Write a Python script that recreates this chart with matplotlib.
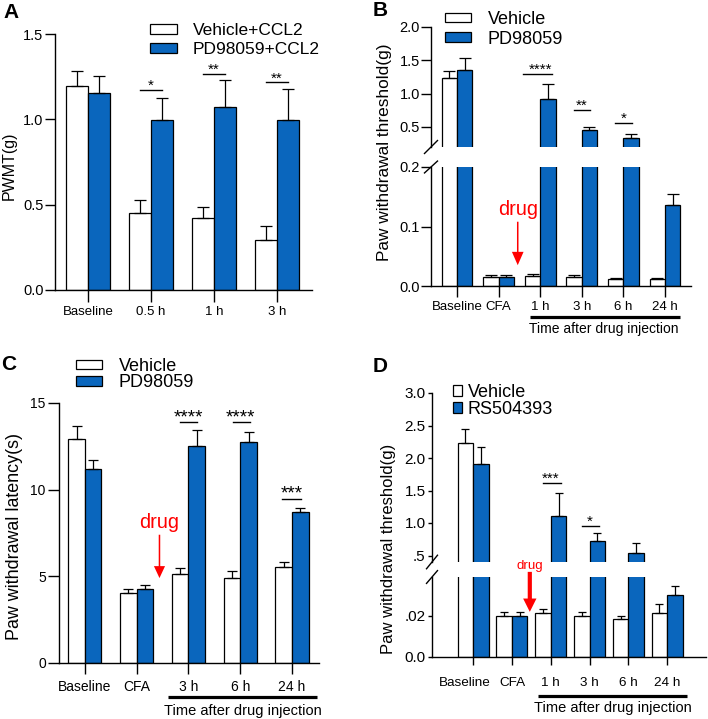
import numpy as np
import matplotlib
matplotlib.use("Agg")
import matplotlib.pyplot as plt
import matplotlib.transforms as mtransforms
from matplotlib.patches import Patch

plt.rcParams["font.family"] = ["Liberation Sans", "DejaVu Sans"]

BLUE = "#0a66bd"

# ---- panel A: PWMT after CCL2
a_groups = ["Baseline", "0.5 h", "1 h", "3 h"]
a_vehicle = [1.193, 0.454, 0.42, 0.293]
a_vehicle_err = [0.092, 0.074, 0.069, 0.084]
a_pd = [1.152, 0.994, 1.074, 0.994]
a_pd_err = [0.102, 0.129, 0.154, 0.183]
a_sig_idx = [1, 2, 3]
a_sig_y = [1.173, 1.267, 1.216]
a_sig_txt = ["*", "**", "**"]

# ---- panel B: CFA, PD98059 (broken axis)
b_groups = ["Baseline", "CFA", "1 h", "3 h", "6 h", "24 h"]
b_vehicle = [1.23, 0.015, 0.017, 0.015, 0.011, 0.011]
b_vehicle_err = [0.11, 0.004, 0.004, 0.004, 0.003, 0.003]
b_pd = [1.35, 0.015, 0.92, 0.455, 0.335, 0.136]
b_pd_err = [0.19, 0.004, 0.225, 0.05, 0.055, 0.018]
b_sig_idx = [2, 3, 4]
b_sig_y = [1.30, 0.76, 0.56]
b_sig_txt = ["****", "**", "*"]

# ---- panel C: paw withdrawal latency
c_groups = ["Baseline", "CFA", "3 h", "6 h", "24 h"]
c_vehicle = [12.92, 4.06, 5.13, 4.92, 5.54]
c_vehicle_err = [0.78, 0.21, 0.37, 0.41, 0.27]
c_pd = [11.19, 4.25, 12.52, 12.77, 8.69]
c_pd_err = [0.54, 0.23, 0.94, 0.56, 0.27]
c_sig_idx = [2, 3, 4]
c_sig_y = [13.9, 13.9, 9.48]
c_sig_txt = ["****", "****", "***"]

# ---- panel D: RS504393 (broken axis)
d_groups = ["Baseline", "CFA", "1 h", "3 h", "6 h", "24 h"]
d_vehicle = [2.235, 0.020, 0.0216, 0.020, 0.0187, 0.0216]
d_vehicle_err = [0.205, 0.002, 0.002, 0.002, 0.0013, 0.0044]
d_pd = [1.915, 0.020, 1.104, 0.717, 0.546, 0.0304]
d_pd_err = [0.255, 0.002, 0.361, 0.123, 0.144, 0.0042]
d_sig_idx = [2, 3]
d_sig_y = [1.62, 0.955]
d_sig_txt = ["***", "*"]


def draw_bars(ax, veh, veh_err, pd, pd_err, width, capsize):
    x = np.arange(len(veh))
    z = np.zeros(len(veh))
    ax.bar(x - width / 2, veh, width, color="white", edgecolor="black", lw=0.9)
    ax.bar(x + width / 2, pd, width, color=BLUE, edgecolor="black", lw=0.9)
    ax.errorbar(x - width / 2, veh, yerr=[z, veh_err], fmt="none", ecolor="black",
                elinewidth=0.9, capsize=capsize, capthick=0.9)
    ax.errorbar(x + width / 2, pd, yerr=[z, pd_err], fmt="none", ecolor="black",
                elinewidth=0.9, capsize=capsize, capthick=0.9)


def style(ax, xlen, ylen, xsize, ysize, xpad, ypad):
    for s in ["top", "right"]:
        ax.spines[s].set_visible(False)
    for s in ["left", "bottom"]:
        ax.spines[s].set_linewidth(1.0)
    ax.tick_params(axis="x", length=xlen, width=1.0, labelsize=xsize, pad=xpad)
    ax.tick_params(axis="y", length=ylen, width=1.0, labelsize=ysize, pad=ypad)


def sig(ax, idx, ys, txts, spans, size):
    for i, y, t, (l, r) in zip(idx, ys, txts, spans):
        ax.plot([i + l, i + r], [y, y], color="black", lw=1.0)
        ax.text(i, y, t, ha="center", va="baseline", fontsize=size)


def time_bar(ax, x0, x1, yline, xt, ytext, size):
    tr = ax.get_xaxis_transform()
    ax.plot([x0, x1], [yline, yline], color="black", lw=2.3, transform=tr,
            clip_on=False, solid_capstyle="butt")
    ax.text(xt, ytext, "Time after drug injection", transform=tr, ha="center",
            va="center", fontsize=size)


def break_marks(ax_up, ax_lo, dx, dy_up, dy_lo):
    kw = dict(color="black", lw=1.0, clip_on=False)
    ax_up.plot([-dx, dx], [-dy_up, dy_up], transform=ax_up.transAxes, **kw)
    ax_lo.plot([-dx, dx], [1 - dy_lo, 1 + dy_lo], transform=ax_lo.transAxes, **kw)


def drug(ax, x, y_text, y_tail, y_tip, size, shaft, head_w, head_l):
    ax.text(x, y_text, "drug", color="red", ha="center", va="center",
            fontsize=size, clip_on=False)
    ax.annotate("", xy=(x, y_tip), xytext=(x, y_tail), annotation_clip=False,
                arrowprops=dict(facecolor="red", edgecolor="none", width=shaft,
                                headwidth=head_w, headlength=head_l, shrink=0))


def legend(ax, labels, x, y, size, hl, hh, pad, spacing):
    ax.legend(handles=[Patch(facecolor="white", edgecolor="black", lw=0.9),
                       Patch(facecolor=BLUE, edgecolor="black", lw=0.9)],
              labels=labels, loc="upper left",
              bbox_to_anchor=(x / W, 1 - y / H), bbox_transform=fig.transFigure,
              frameon=False, fontsize=size, borderpad=0, borderaxespad=0,
              handlelength=hl, handleheight=hh, handletextpad=pad,
              labelspacing=spacing)


W, H = 708, 719
fig = plt.figure(figsize=(W / 100, H / 100), dpi=100)


def box(left, top, right, bottom):
    return [left / W, (H - bottom) / H, (right - left) / W, (bottom - top) / H]


def ylabel(text, px, py, size):
    fig.text(px / W, 1 - py / H, text, rotation=90, ha="center", va="center",
             fontsize=size)


# ================= A
axA = fig.add_axes(box(55, 34, 312, 290))
draw_bars(axA, a_vehicle, a_vehicle_err, a_pd, a_pd_err, 0.35, 4.3)
axA.set_xlim(-0.524, 3.556)
axA.set_ylim(0, 1.5)
axA.set_yticks([0.0, 0.5, 1.0, 1.5])
axA.set_yticklabels(["0.0", "0.5", "1.0", "1.5"])
axA.set_xticks(np.arange(len(a_groups)))
axA.set_xticklabels(a_groups)
style(axA, 8.6, 7.2, 9.5, 10.5, 3, 1)
ylabel("PWMT(g)", 9, 166, 11.5)
sig(axA, a_sig_idx, a_sig_y, a_sig_txt, [(-0.18, 0.18)] * 3, 11)
legend(axA, ["Vehicle+CCL2", "PD98059+CCL2"], 150, 23, 12.5, 1.55, 0.5, 0.9, 0.25)

# ================= B
axBu = fig.add_axes(box(431, 27, 691, 147))
axBl = fig.add_axes(box(431, 167, 691, 286))
for ax in (axBu, axBl):
    draw_bars(ax, b_vehicle, b_vehicle_err, b_pd, b_pd_err, 0.37, 4)
    ax.set_xlim(-0.625, 5.625)
axBu.set_ylim(0.2, 2.0)
axBl.set_ylim(0, 0.2)
axBu.set_yticks([0.5, 1.0, 1.5, 2.0])
axBu.set_yticklabels(["0.5", "1.0", "1.5", "2.0"])
axBl.set_yticks([0.0, 0.1, 0.2])
axBl.set_yticklabels(["0.0", "0.1", "0.2"])
axBl.set_xticks(np.arange(len(b_groups)))
axBl.set_xticklabels(b_groups)
style(axBu, 8, 7, 9.5, 10.5, 3, 1)
style(axBl, 8, 7, 9.5, 10.5, 3, 1)
axBu.spines["bottom"].set_visible(False)
axBu.tick_params(axis="x", bottom=False, labelbottom=False)
break_marks(axBu, axBl, 0.025, 0.054, 0.05)
sig(axBu, b_sig_idx, b_sig_y, b_sig_txt, [(-0.42, 0.28), (-0.18, 0.2), (-0.2, 0.2)], 11)
drug(axBl, 1.46, 0.128, 0.108, 0.035, 14.4, 1.1, 8.4, 9.6)
time_bar(axBl, 1.75, 5.36, -0.26, 3.53, -0.36, 10)
ylabel("Paw withdrawal threshold(g)", 385, 152, 12.4)
legend(axBu, ["Vehicle", "PD98059"], 445, 11, 13, 1.45, 0.45, 0.9, 0.15)

# ================= C
axC = fig.add_axes(box(59, 403, 319, 663))
draw_bars(axC, c_vehicle, c_vehicle_err, c_pd, c_pd_err, 0.32, 3.6)
axC.set_xlim(-0.5, 4.52)
axC.set_ylim(0, 15)
axC.set_yticks([0, 5, 10, 15])
axC.set_xticks(np.arange(len(c_groups)))
axC.set_xticklabels(c_groups)
style(axC, 8, 8, 10, 10, 4, 1.5)
ylabel("Paw withdrawal latency(s)", 15, 537, 12.9)
sig(axC, c_sig_idx, c_sig_y, c_sig_txt, [(-0.17, 0.17), (-0.15, 0.18), (-0.19, 0.18)], 13.5)
drug(axC, 1.44, 8.1, 7.4, 4.9, 14.4, 1.1, 8, 8.6)
time_bar(axC, 1.6, 4.48, -0.131, 3.05, -0.185, 10.5)
legend(axC, ["Vehicle", "PD98059"], 76, 358, 13, 1.45, 0.45, 0.9, -0.05)

# ================= D
axDu = fig.add_axes(box(432, 393, 706, 562))
axDl = fig.add_axes(box(432, 577, 706, 657))
for ax in (axDu, axDl):
    draw_bars(ax, d_vehicle, d_vehicle_err, d_pd, d_pd_err, 0.40, 3)
    ax.set_xlim(-1.06, 6.0)
axDu.set_ylim(0.4, 3.0)
axDl.set_ylim(0, 0.039)
axDu.set_yticks([0.5, 1.0, 1.5, 2.0, 2.5, 3.0])
axDu.set_yticklabels([".5", "1.0", "1.5", "2.0", "2.5", "3.0"])
axDl.set_yticks([0.0, 0.02])
axDl.set_yticklabels(["0.0", ".02"])
axDl.set_xticks(np.arange(len(d_groups)))
axDl.set_xticklabels(d_groups)
style(axDu, 5.8, 3, 9.7, 11, 8.5, 1.5)
style(axDl, 5.8, 3, 9.7, 11, 8.5, 1.5)
# first label sits a little left of its tick in the reference
shift = mtransforms.ScaledTranslation(-8 / 100, 0, fig.dpi_scale_trans)
first = axDl.get_xticklabels()[0]
first.set_transform(first.get_transform() + shift)
axDu.spines["bottom"].set_visible(False)
axDu.tick_params(axis="x", bottom=False, labelbottom=False)
break_marks(axDu, axDl, 0.02, 0.04, 0.08)
sig(axDu, d_sig_idx, d_sig_y, d_sig_txt, [(-0.2, 0.26), (-0.2, 0.24)], 11)
drug(axDl, 1.46, 0.0445, 0.0415, 0.022, 9.6, 3, 9.6, 9.6)
time_bar(axDl, 1.675, 5.52, -0.49, 3.6, -0.64, 10.5)
ylabel("Paw withdrawal threshold(g)", 389, 549, 12)
axDu.legend(handles=[Patch(facecolor="white", edgecolor="black", lw=0.9),
                     Patch(facecolor=BLUE, edgecolor="black", lw=0.9)],
            labels=["Vehicle", "RS504393"], loc="upper left",
            bbox_to_anchor=(453 / W, 1 - 384 / H), bbox_transform=fig.transFigure,
            frameon=False, fontsize=13, borderpad=0, borderaxespad=0,
            handlelength=0.5, handleheight=0.6, handletextpad=0.3, labelspacing=0.0)

# panel letters
for letter, px, py in [("A", 11, 12), ("B", 380, 10), ("C", 9, 365), ("D", 380, 366)]:
    fig.text(px / W, 1 - py / H, letter, fontsize=15, fontweight="bold",
             ha="center", va="center")

fig.savefig("out.png", dpi=100)
